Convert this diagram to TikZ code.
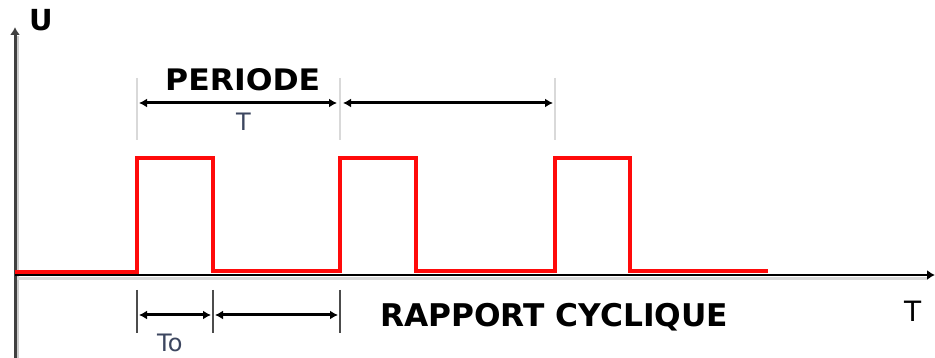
\documentclass[tikz,border=0pt]{standalone}
\usepackage{fontspec}
\setmainfont{DejaVu Sans}
\usetikzlibrary{arrows.meta}
\definecolor{sig}{RGB}{255,10,10}
\definecolor{lbl}{RGB}{60,70,95}
\begin{document}
\begin{tikzpicture}[x=1pt,y=-1pt,
  axis/.style={line width=2.5pt,-{Latex[length=8pt,width=10pt]}},
  extline/.style={line width=2.5pt,color=black!15},
  tickline/.style={line width=2.5pt,color=black!70},
  dim/.style={line width=3pt,{Latex[length=8pt,width=9pt]}-{Latex[length=8pt,width=9pt]}},
  signal/.style={line width=4pt,color=sig,line join=miter},
  bigtxt/.style={font=\bfseries,inner sep=0pt,anchor=west},
  smalltxt/.style={inner sep=0pt,anchor=west,color=lbl}]
\useasboundingbox (0,0) rectangle (935,358);
% axes
\coordinate (o) at (15,275);
\coordinate (ytop) at (15,27);
\coordinate (ybot) at (15,358);
\coordinate (xend) at (935,275);
\draw[line width=2pt,color=black!20] (18,358) -- (18,36);
\draw[line width=2.5pt,color=black!15] (15,278.5) -- (928,278.5);
\draw[axis,line width=3pt,color=black!75] (ybot) -- (ytop);
\draw[axis,line width=2pt,color=black] (o) -- (xend);
% signal
\draw[signal] (15,272) -- (137,272) -- (137,158) -- (213,158) -- (213,271)
  -- (340,271) -- (340,158) -- (416,158) -- (416,271)
  -- (555,271) -- (555,158) -- (630,158) -- (630,271) -- (768,271);
% top extension lines
\foreach \xx in {137,340,555}{
  \draw[extline] (\xx,78) -- (\xx,140);
}
\coordinate (ta1) at (139,103);
\coordinate (tb1) at (337,103);
\coordinate (tb2) at (343,103);
\coordinate (tc1) at (553,103);
\draw[dim] (ta1) -- (tb1);
\draw[dim] (tb2) -- (tc1);
% bottom ticks
\foreach \xx in {137,213,340}{
  \draw[tickline] (\xx,290) -- (\xx,333);
}
\coordinate (ba) at (139,315);
\coordinate (bb1) at (211,315);
\coordinate (bb2) at (215,315);
\coordinate (bc) at (338,315);
\draw[dim] (ba) -- (bb1);
\draw[dim] (bb2) -- (bc);
% labels
\node[bigtxt,font=\bfseries\fontsize{29}{29}\selectfont] (U) at (29,20) {U};
\node[bigtxt] (per) at (165,80) {\resizebox{155pt}{22pt}{PERIODE}};
\node[smalltxt,font=\fontsize{24}{24}\selectfont] (tT) at (236,122) {T};
\node[smalltxt,font=\fontsize{24}{24}\selectfont] (To) at (157,343) {To};
\node[bigtxt] (rc) at (380,317.5) {\resizebox{348pt}{!}{RAPPORT CYCLIQUE}};
\node[inner sep=0pt,anchor=west,font=\fontsize{28}{28}\selectfont] (xT) at (904,311) {T};
\end{tikzpicture}
\end{document}
